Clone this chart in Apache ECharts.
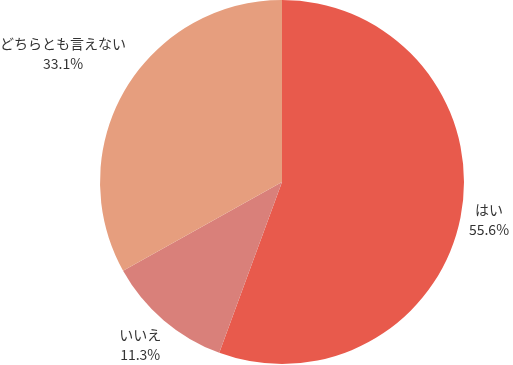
<!DOCTYPE html>
<html><head><meta charset="utf-8">
<script src="https://cdn.jsdelivr.net/npm/echarts@6/dist/echarts.min.js"></script>
<style>html,body{margin:0;padding:0;background:#fff}#c{width:513px;height:365px}</style>
</head><body><div id="c"></div>
<script>
const categories = ['はい', 'いいえ', 'どちらとも言えない'];
const values = [55.6, 11.3, 33.1];
const colors = ['#E85A4C', '#D9807A', '#E69E7E'];

const W = 513, H = 365, CX = 282, CY = 182, R = 182, GAP = 7.5;
const total = values.reduce((a, b) => a + b, 0);
let cum = 0;
const midAngles = values.map(v => { const m = (cum + v / 2) / total * 2 * Math.PI; cum += v; return m; });

const chart = echarts.init(document.getElementById('c'));
chart.setOption({
  animation: false,
  color: colors,
  series: [{
    type: 'pie',
    center: [CX, CY],
    radius: R,
    startAngle: 90,
    clockwise: true,
    data: categories.map((n, i) => ({ name: n, value: values[i] })),
    label: {
      show: true,
      position: 'outside',
      formatter: p => p.name + '\n' + p.value.toFixed(1) + '%',
      fontFamily: 'Noto Sans CJK JP',
      fontSize: 14,
      lineHeight: 20,
      color: '#333',
      overflow: 'none'
    },
    labelLine: { show: false },
    labelLayout: function (params) {
      const a = midAngles[params.dataIndex];
      const dx = Math.sin(a), dy = -Math.cos(a);
      const w = params.labelRect.width, h = params.labelRect.height;
      const d = R + Math.abs(dx) * w / 2 + Math.abs(dy) * h / 2 + GAP;
      let x = CX + dx * d, y = CY + dy * d;
      x = Math.min(Math.max(x, w / 2), W - w / 2);
      y = Math.min(Math.max(y, h / 2), H - h / 2);
      return { x: x, y: y, align: 'center', verticalAlign: 'middle' };
    },
    itemStyle: { borderWidth: 0 }
  }]
});
</script></body></html>
